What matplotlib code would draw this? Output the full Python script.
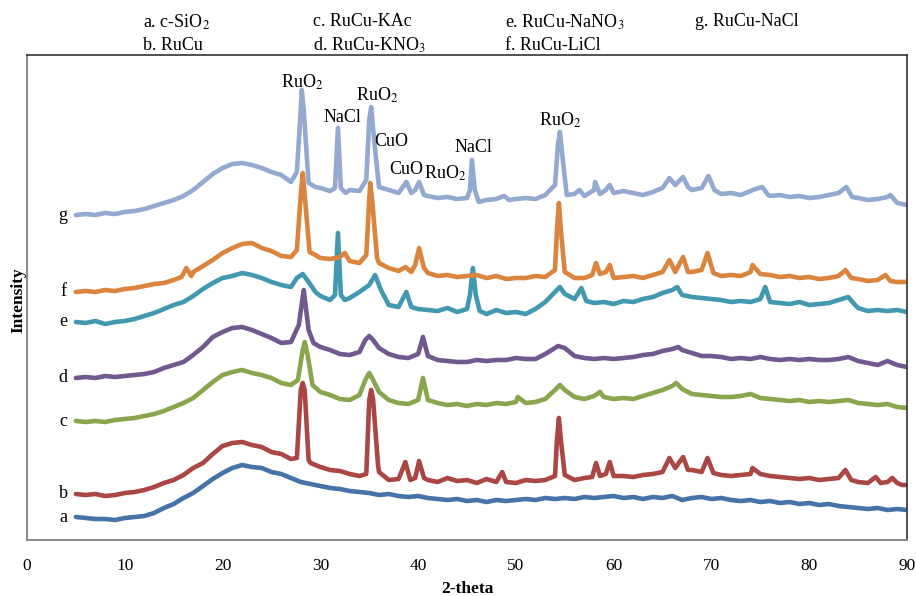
import numpy as np
import matplotlib
matplotlib.use("Agg")
import matplotlib.pyplot as plt

plt.rcParams['font.family'] = ['Liberation Serif', 'DejaVu Serif']
plt.rcParams['mathtext.fontset'] = 'stix'

# ---- data (arbitrary intensity units incl. stacking offset)
# a. c-SiO2
xa = [5, 6, 7, 8, 9, 10, 11, 12, 13, 14, 15, 16, 17, 18, 19, 20, 21, 22, 23, 24, 25, 26, 27, 28, 29, 30,
      31, 32, 33, 34, 35, 36, 37, 38, 39, 40, 41, 42, 43, 44, 45, 46, 47, 48, 49, 50, 51, 52, 53, 54, 55,
      56, 57, 58, 59, 60, 61, 62, 63, 64, 65, 66, 67, 68, 69, 70, 71, 72, 73, 74, 75, 76, 77, 78, 79, 80,
      81, 82, 83, 84, 85, 86, 87, 88, 89, 90]
ya = [23, 22, 21, 21, 20, 22, 23, 24, 27, 32, 36, 42, 47, 54, 61, 67, 72, 75, 73, 72, 68, 66, 62, 58, 56, 54,
      52, 51, 49, 48, 47, 45, 46, 44, 43, 44, 42, 41, 40, 41, 39, 40, 38, 40, 39, 40, 41, 40, 42, 41, 42,
      41, 43, 42, 43, 44, 42, 43, 41, 43, 42, 44, 40, 42, 43, 41, 42, 40, 39, 40, 38, 39, 37, 38, 36, 37,
      35, 36, 34, 33, 32, 31, 32, 30, 31, 30]

# b. RuCu
xb = [5, 6, 7, 8, 9, 10, 11, 12, 13, 14, 15, 16, 17, 18, 19, 20, 21, 22, 23, 24, 25, 26, 27, 27.6, 28.0, 28.2,
      28.4, 28.8, 29, 30, 31, 32, 33, 34, 34.7, 35.0, 35.2, 35.4, 35.9, 36, 37, 38, 38.7, 39.2, 39.7, 40.1,
      40.6, 41, 42, 43, 44, 45, 46, 47, 48, 48.6, 49, 50, 51, 52, 53, 54, 54.2, 54.4, 54.6, 55, 56, 57, 57.8,
      58.2, 58.6, 59.2, 59.6, 60, 61, 62, 63, 64, 65, 65.7, 66.3, 67.1, 67.6, 68, 69, 69.6, 70.2, 71, 72, 73,
      74, 74.2, 75, 76, 77, 78, 79, 80, 81, 82, 83, 83.7, 84.3, 85, 86, 86.8, 87.3, 88, 88.5, 89, 89.5, 90]
yb = [46, 45, 46, 44, 45, 47, 48, 50, 53, 57, 60, 65, 72, 77, 86, 94, 97, 98, 95, 93, 88, 86, 81, 82, 150, 157,
      150, 80, 77, 73, 70, 69, 66, 64, 66, 140, 150, 140, 75, 68, 60, 61, 78, 60, 62, 79,
      62, 60, 58, 62, 59, 60, 57, 61, 58, 68, 58, 57, 60, 59, 60, 64, 100, 122, 100, 65, 60, 62, 63,
      77, 64, 66, 78, 64, 64, 63, 65, 66, 68, 82, 72, 83, 70, 70, 68, 82, 67, 65, 64, 65,
      66, 72, 66, 64, 63, 62, 61, 62, 60, 61, 62, 70, 60, 58, 57, 63, 57, 58, 62, 57, 55, 55]

# c. RuCu-KAc
xc = [5, 6, 7, 8, 9, 10, 11, 12, 13, 14, 15, 16, 17, 18, 19, 20, 21, 22, 23, 24, 25, 26, 27, 27.7, 28.2, 28.4,
      28.7, 29.2, 30, 31, 32, 33, 34, 34.6, 35.0, 35.4, 36, 37, 38, 39, 40, 40.5, 41, 42, 43, 44, 45, 46, 47,
      48, 49, 50, 50.2, 51, 52, 53, 54, 54.5, 55, 56, 57, 58, 58.6, 59, 60, 61, 62, 63, 64, 65, 66, 66.4, 67,
      68, 69, 70, 71, 72, 73, 74, 75, 76, 77, 78, 79, 80, 81, 82, 83, 84, 85, 86, 87, 88, 89, 90]
yc = [119, 118, 119, 118, 120, 121, 122, 124, 126, 129, 133, 137, 142, 150, 158, 165, 168, 170, 167, 165, 162,
      157, 155, 160, 190, 198, 185, 155, 148, 145, 141, 140, 145, 160, 167, 160, 148, 140, 137, 136, 140, 162,
      140, 137, 135, 136, 134, 136, 135, 137, 136, 138, 143, 137, 138, 141, 150, 155, 150, 143, 141, 144, 148,
      143, 141, 142, 141, 144, 147, 150, 154, 157, 151, 146, 145, 144, 143, 143, 144, 146, 142, 141, 140, 139,
      140, 138, 139, 138, 139, 140, 137, 136, 135, 136, 133, 132]

# d. RuCu-KNO3
xd = [5, 6, 7, 8, 9, 10, 11, 12, 13, 14, 15, 16, 17, 18, 19, 20, 21, 22, 23, 24, 25, 26, 27, 27.8, 28.3, 28.8,
      29.3, 30, 31, 32, 33, 34, 34.6, 35.0, 35.4, 36, 37, 38, 39, 40, 40.5, 41, 42, 43, 44, 45, 46, 47, 48, 49,
      50, 51, 52, 53, 54, 54.3, 55, 56, 57, 58, 59, 60, 61, 62, 63, 64, 65, 66, 66.6, 67, 68, 69, 70, 71, 72,
      73, 74, 75, 76, 77, 78, 79, 80, 81, 82, 83, 84, 85, 86, 87, 88, 89, 90]
yd = [162, 163, 162, 164, 163, 164, 165, 166, 168, 172, 175, 178, 185, 193, 203, 208, 212, 213, 210, 206, 202,
      197, 198, 215, 250, 210, 197, 193, 190, 186, 185, 188, 200, 204, 200, 192, 186, 183, 182, 186, 203, 184,
      180, 179, 178, 178, 180, 179, 180, 180, 182, 181, 181, 186, 192, 194, 192, 184, 182, 181, 182, 181, 182,
      183, 185, 186, 189, 191, 193, 190, 187, 184, 184, 183, 181, 182, 181, 183, 181, 180, 181, 180, 181, 180,
      180, 181, 183, 179, 177, 175, 179, 175, 173]

# e. RuCu-NaNO3
xe = [5, 6, 7, 8, 9, 10, 11, 12, 13, 14, 15, 16, 17, 18, 19, 20, 21, 22, 23, 24, 25, 26, 27, 27.6, 28.2, 28.8,
      29.5, 30, 31, 31.5, 31.8, 32.1, 32.5, 33, 34, 35, 35.6, 36.2, 37, 38, 38.8, 39.3, 40, 41, 42, 43, 44, 45,
      45.3, 45.6, 45.9, 46.3, 47, 48, 49, 50, 51, 52, 53, 54, 54.5, 55, 56, 56.7, 57.2, 58, 59, 60, 61, 62, 63,
      64, 65, 66, 66.5, 67, 68, 69, 70, 71, 72, 73, 74, 75, 75.5, 76, 77, 78, 79, 80, 81, 82, 83, 84, 84.6, 85,
      86, 87, 88, 89, 90]
ye = [218, 217, 219, 216, 218, 219, 221, 224, 227, 231, 235, 238, 244, 251, 257, 262, 264, 267, 265, 262, 258,
      255, 253, 262, 266, 258, 248, 244, 240, 245, 307, 245, 240, 242, 248, 255, 265, 250, 235, 233, 248, 233,
      231, 230, 229, 232, 228, 231, 245, 272, 245, 229, 226, 230, 227, 228, 226, 231, 238, 248, 253, 246, 241,
      252, 239, 237, 238, 236, 239, 238, 241, 243, 247, 250, 253, 245, 243, 242, 241, 240, 238, 239, 238, 241,
      253, 238, 237, 236, 238, 235, 236, 237, 240, 243, 236, 232, 229, 230, 229, 230, 228]

# f. RuCu-LiCl
xf = [5, 6, 7, 8, 9, 10, 11, 12, 13, 14, 15, 15.8, 16.3, 16.8, 17, 18, 19, 20, 21, 22, 23, 24, 25, 26, 27, 27.6,
      28.0, 28.2, 28.4, 28.9, 29.5, 30, 31, 32, 32.5, 33, 34, 34.7, 35.0, 35.1, 35.3, 35.8, 36, 37, 38, 38.7,
      39.3, 39.7, 40.1, 40.6, 41, 42, 43, 44, 45, 46, 47, 48, 49, 50, 51, 52, 53, 54, 54.2, 54.4, 54.6, 55, 56,
      57, 57.8, 58.2, 58.6, 59.2, 59.6, 60, 61, 62, 63, 64, 65, 65.7, 66.3, 67.1, 67.6, 68, 69, 69.6, 70.2, 71,
      72, 73, 74, 74.2, 75, 76, 77, 78, 79, 80, 81, 82, 83, 83.7, 84.3, 85, 86, 87, 87.8, 88.3, 89, 90]
yf = [248, 249, 248, 250, 249, 251, 252, 254, 256, 257, 260, 263, 272, 264, 268, 274, 280, 287, 292, 296, 297,
      292, 289, 284, 283, 290, 345, 367, 345, 288, 285, 282, 281, 283, 287, 279, 277, 285, 340, 357, 340, 282,
      277, 272, 269, 273, 268, 275, 292, 272, 267, 264, 265, 263, 264, 265, 262, 264, 261, 262, 262, 264, 263,
      270, 310, 337, 310, 268, 262, 262, 265, 277, 266, 268, 275, 262, 263, 264, 262, 265, 268, 280, 268, 283,
      268, 268, 270, 287, 267, 264, 265, 264, 268, 275, 266, 265, 263, 264, 262, 263, 261, 262, 264, 270, 262,
      261, 259, 260, 265, 259, 258, 258]

# g. RuCu-NaCl
xg = [5, 6, 7, 8, 9, 10, 11, 12, 13, 14, 15, 16, 17, 18, 19, 20, 21, 22, 23, 24, 25, 26, 27, 27.6, 28.0, 28.1,
      28.3, 28.8, 29.5, 30, 31, 31.5, 31.8, 32.1, 32.6, 33, 34, 34.7, 35.0, 35.2, 35.5, 36, 37, 38, 38.8, 39.3,
      39.7, 40.1, 40.6, 41, 42, 43, 44, 45, 45.3, 45.5, 45.8, 46.2, 47, 48, 48.8, 49.3, 50, 51, 52, 53, 54,
      54.3, 54.5, 54.8, 55.2, 56, 56.5, 57, 58, 58.1, 58.6, 59.2, 59.6, 60, 61, 62, 63, 64, 65, 65.7, 66.3,
      67.1, 67.6, 68, 69, 69.7, 70.3, 71, 72, 73, 74, 74.2, 75.2, 75.8, 76, 77, 78, 79, 80, 81, 82, 83, 83.8,
      84.4, 85, 86, 87, 88, 88.3, 89, 90]
yg = [325, 326, 325, 327, 326, 328, 329, 331, 334, 337, 340, 344, 350, 358, 366, 372, 376, 377, 375, 372, 368,
      365, 358, 368, 430, 450, 430, 357, 353, 352, 349, 352, 412, 352, 347, 350, 349, 360, 420, 433, 400, 353,
      350, 347, 358, 347, 350, 358, 345, 344, 342, 343, 341, 342, 350, 380, 350, 338, 340, 341, 344, 340, 341,
      342, 341, 345, 355, 395, 408, 380, 345, 346, 350, 344, 350, 358, 346, 350, 355, 347, 349, 347, 345, 348,
      352, 362, 355, 363, 353, 350, 352, 364, 350, 346, 347, 345, 349, 350, 353, 345, 344, 345, 343, 344, 342,
      343, 345, 347, 353, 343, 342, 340, 341, 343, 345, 337, 335]

series = [(xa, ya, 'a'), (xb, yb, 'b'), (xc, yc, 'c'), (xd, yd, 'd'),
          (xe, ye, 'e'), (xf, yf, 'f'), (xg, yg, 'g')]
colors = ['#4572A7', '#AA4643', '#89A54E', '#71588F', '#4198AF', '#DB843D', '#93A9CF']

legend_rows = [['a. c-SiO$_2$', 'c. RuCu-KAc', 'e. RuCu-NaNO$_3$', 'g. RuCu-NaCl'],
               ['b. RuCu', 'd. RuCu-KNO$_3$', 'f. RuCu-LiCl', '']]

# peak annotations (label, 2-theta, intensity position)
peak_labels = ['RuO$_2$', 'NaCl', 'RuO$_2$', 'CuO', 'CuO', 'RuO$_2$', 'NaCl', 'RuO$_2$']
peak_x = [28.1, 32.3, 35.8, 37.3, 38.8, 42.8, 45.7, 54.5]
peak_y = [458, 422, 445, 398, 370, 367, 392, 420]

fig = plt.figure(figsize=(9.16, 5.96), dpi=100)
ax = fig.add_axes([27 / 916, 56 / 596, 880 / 916, 485 / 596])

for (x, y, lab), c in zip(series, colors):
    ax.plot(x, y, color=c, lw=3.3, solid_joinstyle='round', solid_capstyle='round')
    ax.text(3.7, y[0], lab, fontsize=13, ha='center', va='center')

for lab, px, py in zip(peak_labels, peak_x, peak_y):
    ax.text(px, py, lab, fontsize=13, ha='center', va='center')

ax.set_xlim(0, 90)
ax.set_ylim(0, 485)
ax.set_xticks(range(0, 91, 10))
ax.set_yticks([])
ax.tick_params(axis='x', length=0, pad=13, labelsize=12.5)
for s in ['left', 'bottom']:
    ax.spines[s].set_color('#8c8c8c')
    ax.spines[s].set_linewidth(1.5)
for s in ['top', 'right']:
    ax.spines[s].set_color('#333333')
    ax.spines[s].set_linewidth(1.2)

ax.set_xlabel('2-theta', fontsize=12.5, fontweight='bold', labelpad=5)
fig.text(18 / 916, 1 - 300 / 596, 'Intensity', rotation=90, fontsize=12.5,
         fontweight='bold', ha='center', va='center')

col_x = [143, 313, 505, 695]
row_y = [22, 45]
for row, yy in zip(legend_rows, row_y):
    for txt, xx in zip(row, col_x):
        if txt:
            fig.text(xx / 916, 1 - yy / 596, txt, fontsize=13, ha='left', va='center')

fig.savefig('out.png', dpi=100)
